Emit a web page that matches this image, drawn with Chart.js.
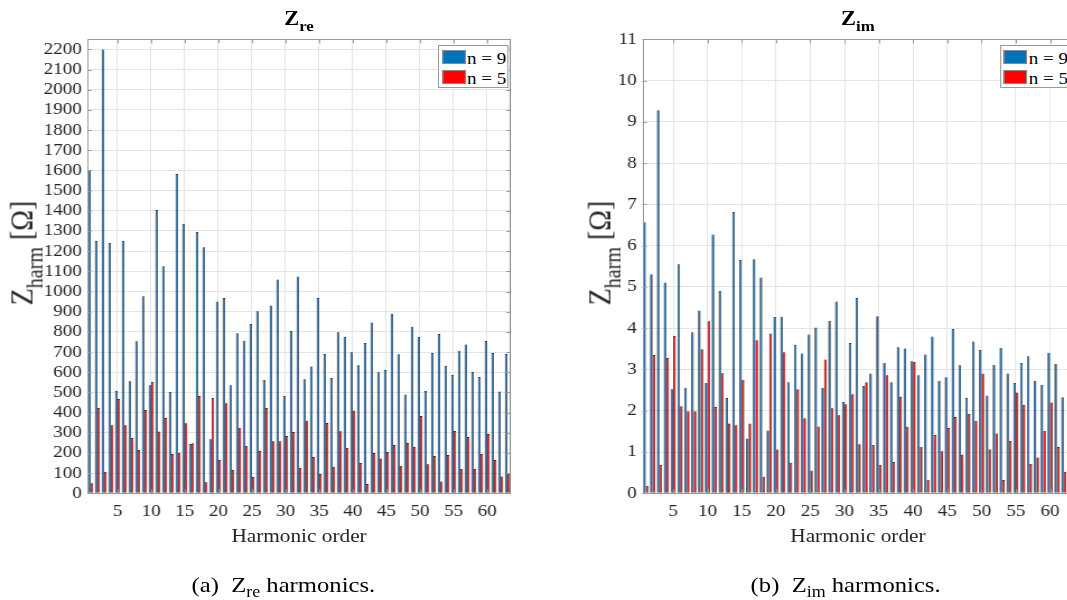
<!DOCTYPE html>
<html>
<head>
<meta charset="utf-8">
<script src="https://cdn.jsdelivr.net/npm/chart.js@4.4.1/dist/chart.umd.min.js"></script>
<style>
html,body{margin:0;padding:0;width:1067px;height:600px;overflow:hidden;background:#fff;}
#wrap{position:absolute;left:0;top:0;width:960px;height:600px;transform:scaleX(1.12);transform-origin:0 0;
  font-family:"Liberation Serif","Times New Roman",serif;color:#262626;}
canvas{position:absolute;top:0;}
.t{position:absolute;white-space:nowrap;line-height:1;}
.ttl{font-weight:bold;font-size:20px;color:#000;transform:translateX(-50%);top:8px;}
.ttl .sb{font-size:15px;position:relative;top:6px;}
.ylab{font-size:28px;transform:translate(-50%,-50%) rotate(-90deg);}
.ylab .sb{font-size:20px;position:relative;top:9px;}
.xlab{font-size:19px;transform:translate(-50%,-50%);}
.cap{font-size:22px;color:#000;transform:translate(-50%,-50%);}
.cap .sb{font-size:16px;position:relative;top:5px;}
.leg{position:absolute;border:1px solid #9a9a9a;background:#fff;width:61px;height:41px;}
.sw{position:absolute;left:2.5px;width:21px;height:14px;border:1px solid #8a8a8a;box-sizing:border-box;}
.lt{position:absolute;left:25px;font-size:17px;line-height:1;color:#000;white-space:nowrap;}
</style>
</head>
<body>
<div id="wrap">
  <canvas id="cRe" width="456" height="600" style="left:0px;width:456px;height:600px;"></canvas>
  <canvas id="cIm" width="439" height="600" style="left:520px;width:439px;height:600px;"></canvas>

  <div class="t ttl" style="left:267px;">Z<span class="sb">re</span></div>
  <div class="t ttl" style="left:766px;">Z<span class="sb">im</span></div>

  <div class="t ylab" style="left:19.5px;top:253px;">Z<span class="sb">harm</span> [Ω]</div>
  <div class="t ylab" style="left:535.5px;top:253px;">Z<span class="sb">harm</span> [Ω]</div>

  <div class="t xlab" style="left:267px;top:535px;">Harmonic order</div>
  <div class="t xlab" style="left:766px;top:535px;">Harmonic order</div>

  <div class="t cap" style="left:253px;top:585px;">(a)&nbsp; Z<span class="sb">re</span> harmonics.</div>
  <div class="t cap" style="left:755px;top:585px;">(b)&nbsp; Z<span class="sb">im</span> harmonics.</div>

  <div class="leg" style="left:391px;top:45px;">
    <div class="sw" style="top:4px;background:#0072BD;"></div><div class="lt" style="top:4px;">n = 9</div>
    <div class="sw" style="top:24px;background:#FF0000;"></div><div class="lt" style="top:24px;">n = 5</div>
  </div>
  <div class="leg" style="left:892.5px;top:45px;">
    <div class="sw" style="top:4px;background:#0072BD;"></div><div class="lt" style="top:4px;">n = 9</div>
    <div class="sw" style="top:24px;background:#FF0000;"></div><div class="lt" style="top:24px;">n = 5</div>
  </div>
</div>

<script>
// ---------------- DATA ----------------
const harmonics = Array.from({length: 63}, (_, i) => i + 1);

const seriesNames = ['n = 9', 'n = 5'];

const zReN9 = [1600, 1250, 2200, 1240, 507, 1250, 555, 753, 976, 535,
               1404, 1125, 502, 1582, 1336, 244, 1295, 1219, 268, 951,
               968, 535, 793, 756, 839, 902, 562, 931, 1060, 482,
               804, 1075, 565, 628, 968, 690, 571, 798, 776, 699,
               634, 745, 847, 600, 611, 890, 689, 490, 826, 775,
               507, 695, 789, 632, 586, 707, 738, 601, 576, 755,
               695, 504, 690];
const zReN5 = [50, 423, 106, 337, 467, 337, 274, 215, 413, 553,
               306, 373, 195, 201, 347, 248, 482, 55, 472, 165,
               446, 116, 324, 235, 81, 211, 423, 258, 258, 284,
               304, 126, 360, 180, 96, 348, 132, 307, 225, 410,
               150, 46, 200, 173, 205, 239, 137, 249, 231, 383,
               144, 185, 59, 190, 309, 121, 279, 121, 195, 294,
               165, 83, 99];

const zImN9 = [6.57, 5.31, 9.28, 5.11, 2.52, 5.55, 2.56, 3.90, 4.43, 2.67,
               6.27, 4.90, 2.31, 6.82, 5.65, 1.33, 5.67, 5.23, 1.52, 4.27,
               4.28, 2.69, 3.60, 3.39, 3.85, 4.02, 2.55, 4.18, 4.65, 2.21,
               3.64, 4.73, 2.60, 2.90, 4.29, 3.16, 2.69, 3.54, 3.51, 3.20,
               2.86, 3.36, 3.80, 2.73, 2.81, 3.98, 3.10, 2.31, 3.68, 3.47,
               2.37, 3.11, 3.52, 2.90, 2.67, 3.16, 3.32, 2.73, 2.63, 3.40,
               3.13, 2.33, null];
const zImN5 = [0.18, 3.35, 0.69, 3.28, 3.81, 2.11, 1.99, 1.99, 3.49, 4.17,
               2.09, 2.91, 1.69, 1.65, 2.75, 1.69, 3.71, 0.40, 3.87, 1.06,
               3.42, 0.74, 2.52, 1.82, 0.55, 1.62, 3.24, 2.06, 1.89, 2.16,
               2.40, 1.19, 2.69, 1.17, 0.69, 2.86, 0.76, 2.34, 1.61, 3.18,
               1.12, 0.32, 1.41, 1.02, 1.58, 1.85, 0.94, 1.92, 1.75, 2.90,
               1.07, 1.45, 0.32, 1.27, 2.44, 2.14, 0.71, 0.87, 1.51, 2.20,
               1.12, 0.52, null];

const xTickStep = 5;
const reAxis = {min: 0, max: 2250, step: 100};
const imAxis = {min: 0, max: 11, step: 1};

// ---------------- STYLE ----------------
const FONT = "'Liberation Serif','Times New Roman',serif";
const GRID = '#e4e4e4';
const AXIS = '#9a9a9a';
const TXT = '#262626';
const PLOT_TOP = 39.3;
const PLOT_BOTTOM = 493.3;

const frame = {
  id: 'frame',
  afterDatasetsDraw(chart) {
    const {ctx, chartArea: a, scales} = chart;
    ctx.save();
    ctx.strokeStyle = AXIS;
    ctx.lineWidth = 1;
    ctx.beginPath();
    const tl = 4;
    scales.y.ticks.forEach(t => {
      const y = Math.round(scales.y.getPixelForValue(t.value)) + 0.5;
      ctx.moveTo(a.left, y); ctx.lineTo(a.left + tl, y);
      ctx.moveTo(a.right, y); ctx.lineTo(a.right - tl, y);
    });
    harmonics.forEach((h, i) => {
      if (h % xTickStep === 0) {
        const x = Math.round(scales.x.getPixelForValue(i)) + 0.5;
        ctx.moveTo(x, a.top); ctx.lineTo(x, a.top + tl);
        ctx.moveTo(x, a.bottom); ctx.lineTo(x, a.bottom - tl);
      }
    });
    ctx.stroke();
    ctx.strokeRect(Math.round(a.left) + 0.5, Math.round(a.top) + 0.5,
                   Math.round(a.right - a.left) - 1, Math.round(a.bottom - a.top));
    ctx.restore();
  }
};

function makeChart(id, dataA, dataB, axis, yWidth) {
  return new Chart(document.getElementById(id), {
    type: 'bar',
    data: {
      labels: harmonics,
      datasets: [
        {label: seriesNames[0], data: dataA, backgroundColor: '#135f9f', borderColor: '#0b2744', borderWidth: 0.7,
         categoryPercentage: 0.76, barPercentage: 1.0},
        {label: seriesNames[1], data: dataB, backgroundColor: '#f00000', borderColor: '#400000', borderWidth: 0.7,
         categoryPercentage: 0.76, barPercentage: 1.0}
      ]
    },
    options: {
      responsive: false,
      animation: false,
      devicePixelRatio: 1,
      layout: {padding: {top: PLOT_TOP, left: 0, right: 0, bottom: 0}},
      plugins: {legend: {display: false}, tooltip: {enabled: false}, title: {display: false}},
      scales: {
        x: {
          type: 'category',
          offset: true,
          border: {display: false},
          grid: {
            offset: false,
            drawTicks: true,
            tickLength: 7,
            tickColor: 'rgba(0,0,0,0)',
            color: c => (c.index !== undefined && harmonics[c.index] % xTickStep === 0) ? GRID : 'rgba(0,0,0,0)'
          },
          ticks: {
            autoSkip: false, maxRotation: 0, minRotation: 0, padding: 1,
            color: TXT, font: {family: FONT, size: 17},
            callback: (v, i) => harmonics[i] % xTickStep === 0 ? String(harmonics[i]) : ''
          },
          afterFit: s => { s.height = 600 - PLOT_BOTTOM; }
        },
        y: {
          type: 'linear',
          min: axis.min, max: axis.max,
          border: {display: false},
          grid: {color: GRID, drawTicks: false},
          ticks: {stepSize: axis.step, autoSkip: false, maxTicksLimit: 40, includeBounds: false, padding: 5, color: TXT,
                  font: {family: FONT, size: 17}, callback: v => String(v)},
          afterFit: s => { s.width = yWidth; }
        }
      }
    },
    plugins: [frame]
  });
}

makeChart('cRe', zReN9, zReN5, reAxis, 77.95);
makeChart('cIm', zImN9, zImN5, imAxis, 53.5);
</script>
</body>
</html>
